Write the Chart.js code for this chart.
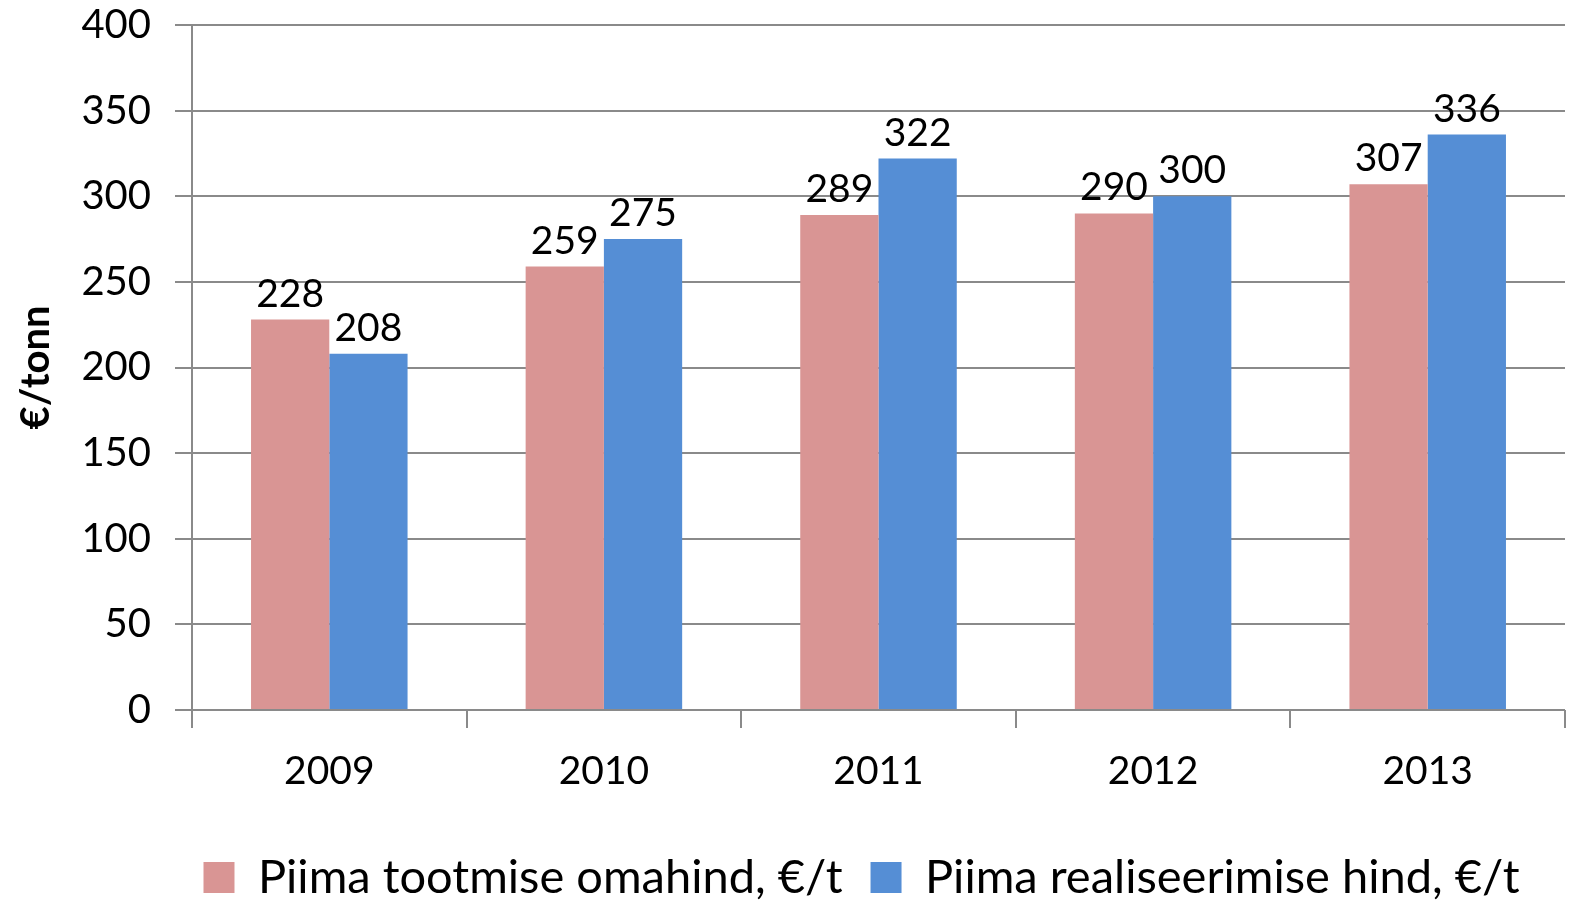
<!DOCTYPE html>
<html>
<head>
<meta charset="utf-8">
<script src="https://cdn.jsdelivr.net/npm/chart.js@4/dist/chart.umd.min.js"></script>
<style>
  html, body { margin: 0; padding: 0; background: #fff; }
  #wrap { width: 1571px; height: 902px; }
</style>
</head>
<body>
<div id="wrap"><canvas id="chart" width="1571" height="902"></canvas></div>
<script>
// chart data
const years = ['2009', '2010', '2011', '2012', '2013'];
const omahind = [228, 259, 289, 290, 307];
const realiseerimine = [208, 275, 322, 300, 336];
const yTicks = [0, 50, 100, 150, 200, 250, 300, 350, 400];

const FONT = 'Lato';
const GRID = '#8a8a8a';

// draws the value above each bar
const barLabels = {
    id: 'barLabels',
    afterDatasetsDraw(chart) {
        const ctx = chart.ctx;
        ctx.save();
        ctx.font = '39px ' + FONT;
        ctx.fillStyle = '#000';
        ctx.textAlign = 'center';
        ctx.textBaseline = 'bottom';
        chart.data.datasets.forEach((ds, i) => {
            chart.getDatasetMeta(i).data.forEach((bar, j) => {
                ctx.fillText(ds.data[j], bar.x, bar.y - 6);
            });
        });
        ctx.restore();
    }
};

// legend in the original sits right of centre and a bit lower
const shiftLegend = {
    id: 'shiftLegend',
    afterLayout(chart) {
        const lg = chart.legend;
        lg.left += 79;
        lg.right += 79;
        lg.top += 9;
        lg.bottom += 9;
    }
};

new Chart(document.getElementById('chart'), {
    type: 'bar',
    data: {
        labels: years,
        datasets: [
            {
                label: 'Piima tootmise omahind, €/t',
                data: omahind,
                backgroundColor: '#d99594'
            },
            {
                label: 'Piima realiseerimise hind, €/t',
                data: realiseerimine,
                backgroundColor: '#558ed5'
            }
        ]
    },
    options: {
        responsive: false,
        animation: false,
        layout: { padding: { top: 25, right: 6, left: 0, bottom: 0 } },
        datasets: {
            bar: { categoryPercentage: 0.57, barPercentage: 1.0 }
        },
        scales: {
            x: {
                grid: { drawOnChartArea: false, color: GRID, lineWidth: 2, tickLength: 18 },
                border: { display: false },
                ticks: { font: { family: FONT, size: 39 }, color: '#000', padding: 20 },
                afterFit: s => { s.height = 107; }
            },
            y: {
                min: 0,
                max: 400,
                afterBuildTicks: s => { s.ticks = yTicks.map(v => ({ value: v })); },
                grid: { color: GRID, lineWidth: 2, tickLength: 17 },
                border: { color: GRID, width: 2 },
                // small lineHeight keeps the top label from pushing the plot down
                ticks: { font: { family: FONT, size: 40, lineHeight: 0.05 }, color: '#000', padding: 24 },
                title: {
                    display: true,
                    text: '€/tonn',
                    font: { family: FONT, size: 40, weight: 'bold' },
                    color: '#000',
                    padding: { top: 12, bottom: 0 }
                },
                afterFit: s => { s.width = 192; }
            }
        },
        plugins: {
            legend: {
                position: 'bottom',
                labels: {
                    font: { family: FONT, size: 47, lineHeight: 1 },
                    color: '#000',
                    boxWidth: 31,
                    boxHeight: 31,
                    padding: 28
                }
            },
            tooltip: { enabled: false }
        }
    },
    plugins: [barLabels, shiftLegend]
});
</script>
</body>
</html>
